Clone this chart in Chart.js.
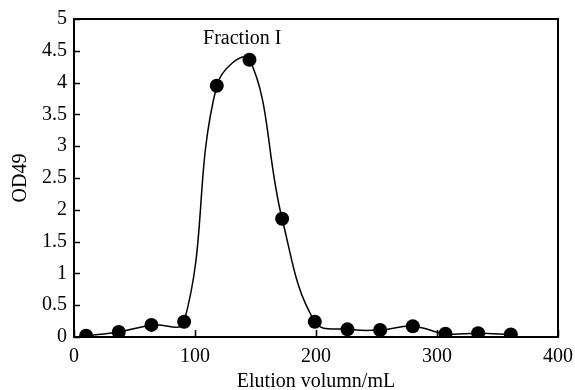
<!DOCTYPE html>
<html>
<head>
<meta charset="utf-8">
<script src="https://cdn.jsdelivr.net/npm/chart.js@4"></script>
<style>
  html, body { margin: 0; padding: 0; background: #fff; }
  #wrap { width: 575px; height: 390px; }
</style>
</head>
<body>
<div id="wrap"><canvas id="elutionChart"></canvas></div>
<script>
// --- Data ---
const elutionVolume = [10, 37, 64, 91, 118, 145, 172, 199, 226, 253, 280, 307, 334, 361];
const od49 = [0.02, 0.08, 0.19, 0.24, 3.95, 4.36, 1.86, 0.24, 0.12, 0.11, 0.17, 0.05, 0.06, 0.04];
const peakLabel = 'Fraction I';
const peakLabelPos = { x: 139, y: 4.6 };

const serif = '"Liberation Serif", "DejaVu Serif", serif';
const fontSize = 20;

// box frame + inward tick marks + peak label
const framePlugin = {
    id: 'frame',
    afterDraw(chart) {
        const { ctx, chartArea: a, scales: { x, y } } = chart;
        ctx.save();
        ctx.strokeStyle = '#000';
        ctx.lineWidth = 2;
        ctx.strokeRect(a.left, a.top, a.right - a.left, a.bottom - a.top);

        ctx.lineWidth = 1.5;
        ctx.beginPath();
        y.ticks.forEach(t => {
            const py = Math.round(y.getPixelForValue(t.value)) + 0.5;
            ctx.moveTo(a.left, py);
            ctx.lineTo(a.left + 6, py);
        });
        x.ticks.forEach(t => {
            const px = Math.round(x.getPixelForValue(t.value)) + 0.5;
            ctx.moveTo(px, a.bottom);
            ctx.lineTo(px, a.bottom - 7);
        });
        ctx.stroke();

        ctx.fillStyle = '#000';
        ctx.font = fontSize + 'px ' + serif;
        ctx.textAlign = 'center';
        ctx.textBaseline = 'alphabetic';
        ctx.fillText(peakLabel, x.getPixelForValue(peakLabelPos.x), y.getPixelForValue(peakLabelPos.y));
        ctx.restore();
    }
};

new Chart(document.getElementById('elutionChart'), {
    type: 'line',
    data: {
        datasets: [{
            data: elutionVolume.map((v, i) => ({ x: v, y: od49[i] })),
            borderColor: '#000',
            backgroundColor: '#000',
            borderWidth: 1.5,
            pointRadius: 7,
            pointBackgroundColor: '#000',
            pointBorderWidth: 0,
            tension: 0.4,
            fill: false
        }]
    },
    options: {
        responsive: true,
        maintainAspectRatio: false,
        animation: false,
        layout: { padding: { top: 19, right: 17, left: 0, bottom: 0 } },
        plugins: { legend: { display: false }, tooltip: { enabled: false } },
        scales: {
            x: {
                type: 'linear',
                min: 0,
                max: 400,
                ticks: { stepSize: 100, color: '#000', padding: 8, font: { family: serif, size: fontSize } },
                grid: { drawOnChartArea: false, drawTicks: false },
                border: { display: false },
                title: { display: true, text: 'Elution volumn/mL', color: '#000', font: { family: serif, size: fontSize }, padding: { top: 0, bottom: -4 } },
                afterFit: s => { s.height = 53; s.paddingLeft = 0; s.paddingRight = 0; }
            },
            y: {
                min: 0,
                max: 5,
                ticks: {
                    stepSize: 0.5, color: '#000', padding: 7,
                    font: { family: serif, size: fontSize },
                    callback: v => String(v)
                },
                grid: { drawOnChartArea: false, drawTicks: false },
                border: { display: false },
                title: { display: true, text: 'OD49', color: '#000', font: { family: serif, size: fontSize }, padding: { top: 9 } },
                afterFit: s => { s.width = 74; s.paddingTop = 0; s.paddingBottom = 0; }
            }
        }
    },
    plugins: [framePlugin]
});
</script>
</body>
</html>
